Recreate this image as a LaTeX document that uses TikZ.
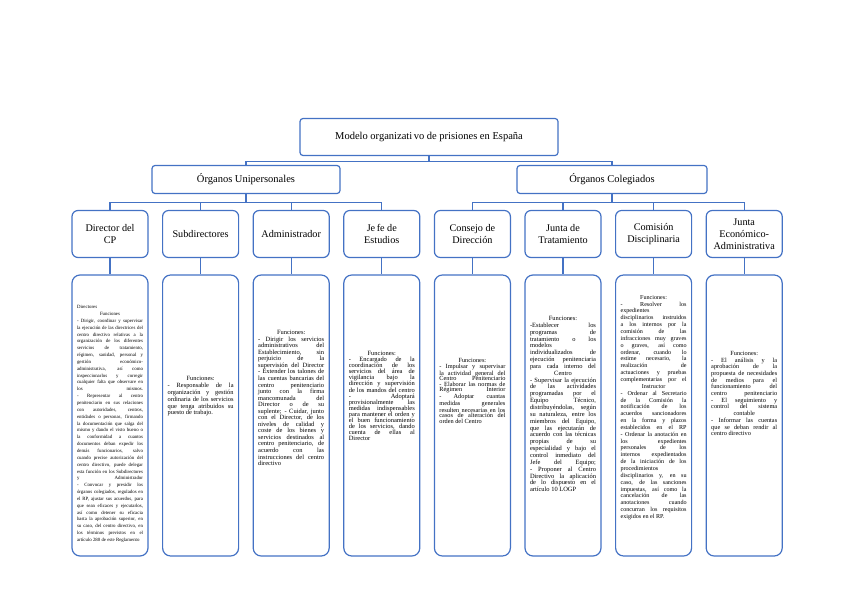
\documentclass[tikz,border=0pt]{standalone}
\usepackage{fontspec}
\setmainfont{Liberation Serif}
\definecolor{bl}{RGB}{68,114,196}
\newcommand{\fitpar}{\tolerance=10000\pretolerance=-1\hyphenpenalty=10000\exhyphenpenalty=10000\parindent=0pt\hbadness=10000}
\newcommand{\ctr}[1]{{\centering #1\par}}
\newcommand{\jend}{{\parfillskip=0pt\par}}
\tikzset{
  conn/.style={draw=bl, line width=1.1pt},
  topbox/.style={draw=bl, line width=1.2pt, rounded corners=3pt, fill=white, align=center, inner sep=1pt, font=\fontsize{10.5}{12}\selectfont},
  headbox/.style={draw=bl, line width=1.2pt, rounded corners=6pt, minimum width=76pt, minimum height=47pt, align=center, inner sep=1pt, font=\fontsize{10.2}{12}\selectfont},
  infobox/.style={draw=bl, line width=1.2pt, rounded corners=8pt, minimum width=76pt, minimum height=281pt, inner sep=0pt},
  info/.style 2 args={text width=66pt, inner sep=0pt, align=justify, font=\fontsize{#1}{#2}\selectfont\fitpar}
}
\begin{document}
\begin{tikzpicture}[x=1pt,y=-1pt]
\useasboundingbox (0,0) rectangle (848,599);
\node[topbox, minimum width=258pt, minimum height=37pt] (top) at (429,137) {Modelo organizati\kern1.5pt vo de prisiones en España};
\node[topbox, minimum width=188pt, minimum height=28pt] (uni) at (246,179.5) {Órganos Unipersonales};
\node[topbox, minimum width=190pt, minimum height=28pt] (col) at (612,179.5) {Órganos Colegiados};

\node[headbox] (h1) at (110,234) {Director del\\CP};
\node[headbox] (h2) at (200.6,234) {Subdirectores};
\node[headbox] (h3) at (291.2,234) {Administrador};
\node[headbox] (h4) at (381.8,234) {Je\kern1.5pt fe de\\Estudios};
\node[headbox] (h5) at (472.4,234) {Consejo de\\Dirección};
\node[headbox] (h6) at (563,234) {Junta de\\Tratamiento};
\node[headbox] (h7) at (653.6,234) {Comisión\\Disciplinaria};
\node[headbox] (h8) at (744.2,234) {Junta\\Económico-\\Administrativa};

\node[infobox] (b1) at (110,415.5) {};
\node[infobox] (b2) at (200.6,415.5) {};
\node[infobox] (b3) at (291.2,415.5) {};
\node[infobox] (b4) at (381.8,415.5) {};
\node[infobox] (b5) at (472.4,415.5) {};
\node[infobox] (b6) at (563,415.5) {};
\node[infobox] (b7) at (653.6,415.5) {};
\node[infobox] (b8) at (744.2,415.5) {};

\node[info={4.85}{6.85}] (t1) at (110,424) {Directores\par
\ctr{Funciones}
- Dirigir, coordinar y supervisar\linebreak
la ejecución de las directrices del\linebreak
centro directivo relativas a la\linebreak
organización de los diferentes\linebreak
servicios de tratamiento,\linebreak
régimen, sanidad, personal y\linebreak
gestión económico-\linebreak
administrativa, así como\linebreak
inspeccionarlos y corregir\linebreak
cualquier falta que observare en\linebreak
los mismos.\linebreak
- Representar al centro\linebreak
penitenciario en sus relaciones\linebreak
con autoridades, centros,\linebreak
entidades o personas, firmando\linebreak
la documentación que salga del\linebreak
mismo y dando el visto bueno o\linebreak
la conformidad a cuantos\linebreak
documentos deban expedir los\linebreak
demás funcionarios, salvo\linebreak
cuando precise autorización del\linebreak
centro directivo, puede delegar\linebreak
esta función en los Subdirectores\linebreak
y Administrador\linebreak
- Convocar y presidir los\linebreak
órganos colegiados, regulados en\linebreak
el RP, ajustar sus acuerdos, para\linebreak
que sean eficaces y ejecutarlos,\linebreak
así como detener su eficacia\linebreak
hasta la aprobación superior, en\linebreak
su caso, del centro directivo, en\linebreak
los términos previstos en el\linebreak
artículo 280 de este Reglamento};

\node[info={6.4}{6.8}] (t2) at (200.6,396.5) {\ctr{Funciones:}
- Responsable de la\linebreak
organización y gestión\linebreak
ordinaria de los servicios\linebreak
que tenga atribuidos su\linebreak
puesto de trabajo.};

\node[info={6.45}{6.55}] (t3) at (291.2,398) {\ctr{Funciones:}
- Dirigir los servicios\linebreak
administrativos del\linebreak
Establecimiento, sin\linebreak
perjuicio de la\linebreak
supervisión del Director\linebreak
- Extender los talones de\linebreak
las cuentas bancarias del\linebreak
centro penitenciario\linebreak
junto con la firma\linebreak
mancomunada del\linebreak
Director o de su\linebreak
suplente; - Cuidar, junto\linebreak
con el Director, de los\linebreak
niveles de calidad y\linebreak
coste de los bienes y\linebreak
servicios destinados al\linebreak
centro penitenciario, de\linebreak
acuerdo con las\linebreak
instrucciones del centro\linebreak
directivo};

\node[info={6.45}{6.1}] (t4) at (381.8,396) {\ctr{Funciones:}
- Encargado de la\linebreak
coordinación de los\linebreak
servicios del área de\linebreak
vigilancia bajo la\linebreak
dirección y supervisión\linebreak
de los mandos del centro\linebreak
- Adoptará\linebreak
provisionalmente las\linebreak
medidas indispensables\linebreak
para mantener el orden y\linebreak
el buen funcionamiento\linebreak
de los servicios, dando\linebreak
cuenta de ellas al\linebreak
Director};

\node[info={6.3}{5.6}] (t5) at (472.4,391) {\ctr{Funciones:}
- Impulsar y supervisar\linebreak
la actividad general del\linebreak
Centro Penitenciario\linebreak
- Elaborar las normas de\linebreak
Régimen Interior\linebreak
- Adoptar cuantas\linebreak
medidas generales\linebreak
resulten necesarias en los\linebreak
casos de alteración del\linebreak
orden del Centro};

\node[info={6.45}{6.85}] (t6) at (563,404) {\ctr{Funciones:}
-Establecer los\linebreak
programas de\linebreak
tratamiento o los\linebreak
modelos\linebreak
individualizados de\linebreak
ejecución penitenciaria\linebreak
para cada interno del\jend
\ctr{Centro}
- Supervisar la ejecución\linebreak
de las actividades\linebreak
programadas por el\linebreak
Equipo Técnico,\linebreak
distribuyéndolas, según\linebreak
su naturaleza, entre los\linebreak
miembros del Equipo,\linebreak
que las ejecutarán de\linebreak
acuerdo con las técnicas\linebreak
propias de su\linebreak
especialidad y bajo el\linebreak
control inmediato del\linebreak
Jefe del Equipo;\linebreak
- Proponer al Centro\linebreak
Directivo la aplicación\linebreak
de lo dispuesto en el\linebreak
artículo 10 LOGP};

\node[info={6.1}{6.85}] (t7) at (653.6,407.5) {\ctr{Funciones:}
- Resolver los\linebreak
expedientes\linebreak
disciplinarios instruidos\linebreak
a los internos por la\linebreak
comisión de las\linebreak
infracciones muy graves\linebreak
o graves, así como\linebreak
ordenar, cuando lo\linebreak
estime necesario, la\linebreak
realización de\linebreak
actuaciones y pruebas\linebreak
complementarias por el\jend
\ctr{Instructor}
- Ordenar al Secretario\linebreak
de la Comisión la\linebreak
notificación de los\linebreak
acuerdos sancionadores\linebreak
en la forma y plazos\linebreak
establecidos en el RP\linebreak
- Ordenar la anotación en\linebreak
los expedientes\linebreak
personales de los\linebreak
internos expedientados\linebreak
de la iniciación de los\linebreak
procedimientos\linebreak
disciplinarios y, en su\linebreak
caso, de las sanciones\linebreak
impuestas, así como la\linebreak
cancelación de las\linebreak
anotaciones cuando\linebreak
concurran los requisitos\linebreak
exigidos en el RP.};

\node[info={6.3}{6.7}] (t8) at (744.2,393.5) {\ctr{Funciones:}
- El análisis y la\linebreak
aprobación de la\linebreak
propuesta de necesidades\linebreak
de medios para el\linebreak
funcionamiento del\linebreak
centro penitenciario\linebreak
- El seguimiento y\linebreak
control del sistema\jend
\ctr{contable}
- Informar las cuentas\linebreak
que se deban rendir al\linebreak
centro directivo};

% connectors
\draw[conn] (top.south) -- ++(0,5) coordinate (j1);
\draw[conn] (j1) -| (uni.north);
\draw[conn] (j1) -| (col.north);
\draw[conn] (uni.south) -- ++(0,8) coordinate (j2);
\draw[conn] (col.south) -- ++(0,8) coordinate (j3);
\foreach \n in {h1,h2,h3,h4}{\draw[conn] (j2) -| (\n.north);}
\foreach \n in {h5,h6,h7,h8}{\draw[conn] (j3) -| (\n.north);}
\foreach \i in {1,...,8}{\draw[conn] (h\i) -- (b\i);}
\end{tikzpicture}
\end{document}
